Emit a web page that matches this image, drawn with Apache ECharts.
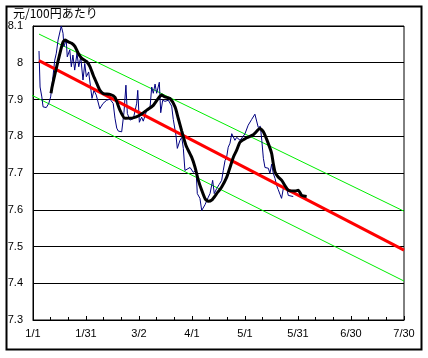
<!DOCTYPE html>
<html>
<head>
<meta charset="utf-8">
<script src="https://cdn.jsdelivr.net/npm/echarts@6/dist/echarts.min.js"></script>
<style>html,body{margin:0;padding:0;background:#fff}#c{width:428px;height:358px}</style>
</head>
<body>
<div id="c"></div>
<script>
// x = days since 1/1
const xTickLabels = ['1/1','1/31','3/2','4/1','5/1','5/31','6/30','7/30'];
const yUnit = '元/100円あたり';

// daily rate (blue)
const dailyDays = [3.4,4,5,5.7,7.5,8.9,10,11.3,12.3,13.2,14.2,16,17,17.5,18.8,19.4,20.8,21.7,22.6,23.6,24.9,25.9,27,28.3,29.3,30.2,31.5,33.4,34.5,35.8,37.8,39.6,41.7,43.6,45.4,46.4,47.4,48.3,50.2,51.5,52.6,53.4,54.9,56.8,58.7,59.3,60.2,61.5,62.4,64.4,66.2,67.2,68.1,69.1,70,71.5,72.3,73.4,74.7,76.6,78.5,79.4,80.9,81.7,83.2,84.2,85.1,86,87,88.9,90.7,92.3,93,94.5,95.5,97.4,98.3,99.2,100.2,101.7,102.6,104,105.4,106.8,107.7,108.7,109.6,110.5,111.5,112.5,113.4,114.3,115.3,116.2,117.2,119,120,121.8,123.8,125.6,127.5,128.7,129.5,130.4,131.3,132.3,133.2,134.1,135.1,136,137,137.9,138.8,139.8,140.7,141.7,143.6,144.5,147.3];
const dailyVals = [8.032,7.934,7.907,7.880,7.878,7.889,7.907,7.962,8.007,8.026,8.062,8.100,8.080,8.044,8.062,8.016,8.035,7.989,8.021,7.980,8.026,7.989,8.016,7.953,7.998,7.962,7.975,7.903,7.925,7.912,7.875,7.889,7.898,7.901,7.889,7.849,7.822,7.814,7.812,7.865,7.939,7.862,7.844,7.848,7.890,7.925,7.838,7.852,7.841,7.871,7.876,7.934,7.917,7.942,7.917,7.947,7.864,7.898,7.895,7.898,7.882,7.846,7.803,7.767,7.789,7.797,7.767,7.707,7.707,7.715,7.702,7.707,7.644,7.631,7.598,7.614,7.612,7.634,7.644,7.680,7.644,7.658,7.669,7.680,7.707,7.734,7.743,7.770,7.781,7.807,7.812,7.789,7.797,7.797,7.789,7.800,7.807,7.830,7.846,7.860,7.824,7.827,7.789,7.740,7.715,7.713,7.713,7.699,7.724,7.699,7.685,7.666,7.655,7.642,7.631,7.658,7.658,7.639,7.636];

// moving average (black)
const maDays = [10.2,10.8,12.5,14.3,16.2,17.1,18.1,20,21.9,23.8,25.6,27.6,30.4,32.3,34.1,36.1,37.9,39.8,43.6,46.4,49.2,52,56.6,60.4,64.4,68.1,70.9,72.8,74.7,77.5,80.4,82.2,84.2,86.6,89.8,91.7,93.6,95.5,97.4,99.2,101.3,104,106.8,109.6,111.5,113.4,115.3,117.2,121,124.7,128.5,130.4,133.2,135.1,136,137,138.8,140.8,142.6,144.5,148.3,150.2,152.1,154.9];
const maVals = [7.917,7.934,7.971,8.007,8.044,8.057,8.062,8.057,8.053,8.044,8.026,8.012,8.003,7.989,7.966,7.944,7.925,7.916,7.914,7.906,7.871,7.849,7.850,7.857,7.871,7.884,7.903,7.912,7.907,7.903,7.880,7.849,7.814,7.775,7.743,7.716,7.680,7.653,7.630,7.623,7.627,7.644,7.662,7.688,7.715,7.743,7.762,7.784,7.796,7.804,7.821,7.812,7.780,7.753,7.726,7.703,7.689,7.680,7.666,7.653,7.651,7.653,7.639,7.636];

// trend line (red) and channel (green)
const trendDays = [3.4, 210];
const trendVals = [8.006, 7.490];
const upperDays = [3.4, 210];
const upperVals = [8.078, 7.596];
const lowerDays = [-1.7, 210];
const lowerVals = [7.914, 7.406];

const zip = (a, b) => a.map((v, i) => [v, b[i]]);

const chart = echarts.init(document.getElementById('c'), null, {renderer: 'canvas'});
const lbl = {color: '#000', fontSize: 11, fontFamily: 'Liberation Sans, Arial, sans-serif'};
chart.setOption({
  animation: false,
  backgroundColor: '#fff',
  title: {
    text: yUnit, left: 13, top: 7, padding: 0,
    textStyle: {fontSize: 12, fontWeight: 'normal', color: '#000', fontFamily: 'Noto Sans CJK JP, sans-serif'}
  },
  graphic: [{
    type: 'rect', left: 4, top: 4, shape: {width: 415, height: 343},
    style: {fill: 'none', stroke: '#000', lineWidth: 2}, silent: true
  }],
  grid: {left: 33, right: 24, top: 26, bottom: 38, show: true, borderColor: '#000', borderWidth: 1, backgroundColor: 'transparent'},
  xAxis: {
    type: 'value', min: 0, max: 210, interval: 30,
    axisLine: {lineStyle: {color: '#000', width: 1}},
    axisTick: {inside: true, length: 4, lineStyle: {color: '#000'}},
    minorTick: {show: true, splitNumber: 3, length: 3, lineStyle: {color: '#000'}},
    splitLine: {show: false},
    axisLabel: Object.assign({margin: 8, formatter: (v) => xTickLabels[Math.round(v / 30)]}, lbl)
  },
  yAxis: {
    type: 'value', min: 7.3, max: 8.1, interval: 0.1,
    axisLine: {show: true, lineStyle: {color: '#000', width: 1}},
    axisTick: {show: false},
    splitLine: {show: true, lineStyle: {color: '#000', width: 1}},
    axisLabel: Object.assign({margin: 10, formatter: (v) => String(+v.toFixed(1))}, lbl)
  },
  series: [
    {type: 'line', data: zip(upperDays, upperVals), symbol: 'none', clip: false, lineStyle: {color: '#00ee00', width: 1}},
    {type: 'line', data: zip(lowerDays, lowerVals), symbol: 'none', clip: false, lineStyle: {color: '#00ee00', width: 1}},
    {type: 'line', data: zip(dailyDays, dailyVals), symbol: 'none', lineStyle: {color: '#000080', width: 1}},
    {type: 'line', data: zip(trendDays, trendVals), symbol: 'none', lineStyle: {color: '#ff0000', width: 3}},
    {type: 'line', data: zip(maDays, maVals), symbol: 'none', smooth: 0.2, lineStyle: {color: '#000', width: 3}}
  ]
});
</script>
</body>
</html>
